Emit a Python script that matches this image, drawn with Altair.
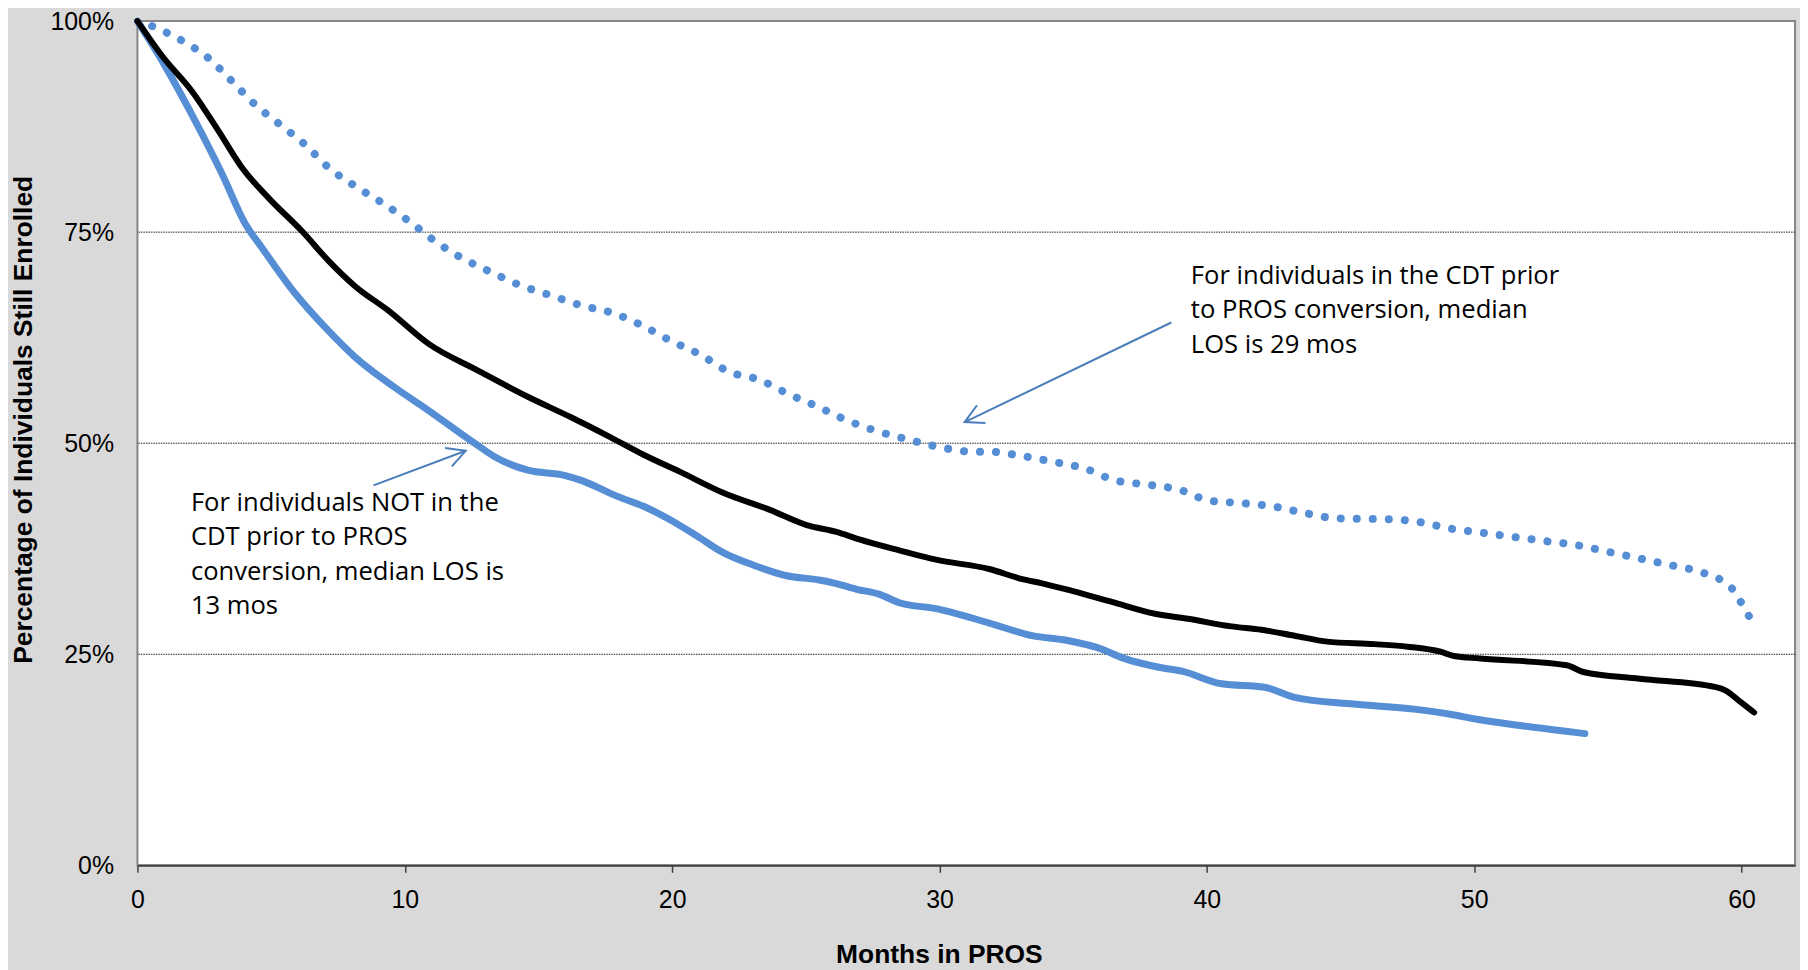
import altair as alt
import pandas as pd

# ---- series values ----
blue_months = [0, 0.94, 2.19, 3.18, 4.05, 4.67, 5.91, 7.15, 8.14, 9.63, 10.88, 12.61, 13.36, 14.6,
               15.97, 16.6, 17.95, 18.95, 19.94, 20.93, 21.93, 23.0, 24.28, 25.5, 26.1, 26.9, 27.76,
               28.5, 29.87, 31.86, 33.47, 34.83, 36.08, 36.82, 38.31, 39.06, 40.55, 42.16, 43.28,
               45.5, 47.75, 49.1, 50.1, 51.84, 54.14]
blue_pct = [100, 95.2, 88.0, 81.8, 75.9, 73.1, 67.7, 63.3, 60.2, 56.6, 53.9, 50.0, 48.4, 46.8,
            46.2, 45.6, 43.7, 42.5, 40.9, 39.0, 37.0, 35.6, 34.3, 33.8, 33.4, 32.7, 32.1,
            31.1, 30.4, 28.7, 27.2, 26.6, 25.6, 24.6, 23.4, 23.0, 21.5, 21.1, 19.9,
            19.1, 18.5, 17.9, 17.3, 16.5, 15.6]

black_months = [0, 0.94, 2.06, 3.05, 3.92, 4.92, 6.16, 7.15, 8.14, 9.39, 10.88, 12.74, 14.6, 16.2,
                17.7, 18.95, 20.3, 21.93, 23.66, 25.03, 26.15, 27.0, 28.63, 29.87, 31.86, 33.1,
                33.84, 34.96, 36.45, 38.06, 39.3, 40.92, 42.04, 43.28, 44.5, 46.26, 47.5, 48.74,
                49.24, 50.23, 53.46, 54.08, 56.19, 59.04, 59.41, 59.9, 60.47]
black_pct = [100, 95.8, 91.6, 86.9, 82.6, 79.0, 75.1, 71.6, 68.6, 65.7, 61.8, 58.6, 55.5, 53.1,
             50.7, 48.6, 46.6, 44.1, 42.1, 40.3, 39.5, 38.6, 37.2, 36.2, 35.1, 33.9,
             33.4, 32.5, 31.2, 29.8, 29.2, 28.3, 27.9, 27.2, 26.5, 26.2, 25.9, 25.3,
             24.8, 24.5, 23.7, 22.9, 22.1, 21.1, 20.7, 19.5, 18.1]

dot_months = [0.55, 1.66, 2.66, 3.53, 4.37, 5.31, 6.26, 7.13, 8.12, 9.14, 10.16, 11.1, 12.1, 13.2,
              14.33, 15.47, 16.62, 17.8, 18.9, 19.97, 21.05, 22.1, 23.27, 24.37, 25.46, 26.55,
              27.7, 28.88, 30.06, 31.24, 31.86, 33.06, 34.25, 35.44, 36.57, 37.77, 38.96, 40.1,
              41.29, 42.5, 43.7, 44.86, 46.68, 47.88, 49.08, 50.28, 51.48, 52.67, 53.88, 55.07,
              56.25, 57.43, 58.61, 59.64, 59.97, 60.28]
dot_pct = [99.4, 97.7, 95.6, 92.9, 90.2, 87.8, 85.4, 82.7, 80.5, 78.5, 76.3, 74.0, 72.0, 70.3,
           68.7, 67.5, 66.3, 65.4, 63.9, 62.1, 60.5, 58.5, 57.5, 55.8, 54.3, 52.7,
           51.4, 50.4, 49.5, 49.0, 49.0, 48.5, 47.8, 47.0, 45.6, 45.1, 44.5, 43.2,
           42.9, 42.5, 41.7, 41.1, 41.0, 40.7, 39.9, 39.4, 38.9, 38.4, 37.9, 37.1,
           36.3, 35.5, 34.6, 32.8, 31.2, 29.5]

x_ticks = [0, 10, 20, 30, 40, 50, 60]
y_ticks = [0, 25, 50, 75, 100]
grid_pct = [25, 50, 75]

note_x = [39.4, 2.0]
note_y = [68.87, 41.98]
note_text = [
    "For individuals in the CDT prior\nto PROS conversion, median\nLOS is 29 mos",
    "For individuals NOT in the\nCDT prior to PROS\nconversion, median LOS is\n13 mos",
]

arrow_x = [38.67, 8.83]
arrow_y = [64.3, 45.0]
arrow_x2 = [30.94, 12.28]
arrow_y2 = [52.5, 49.1]
arrow_angle = [154.3, 339.7]

# ---- tables ----
blue_df = pd.DataFrame({"m": blue_months, "p": blue_pct})
black_df = pd.DataFrame({"m": black_months, "p": black_pct})
dot_df = pd.DataFrame({"m": dot_months, "p": dot_pct})
grid_df = pd.DataFrame({"p": grid_pct})
note_df = pd.DataFrame({"m": note_x, "p": note_y, "t": note_text})
arrow_df = pd.DataFrame({"m": arrow_x, "p": arrow_y, "m2": arrow_x2, "p2": arrow_y2, "a": arrow_angle})
head_df = pd.DataFrame({"m": arrow_x2, "p": arrow_y2, "a": arrow_angle})

BLUE = "#558ed5"
ARROW = "#4a7ebb"

xscale = alt.Scale(domain=[0, 62], nice=False, zero=False)
yscale = alt.Scale(domain=[0, 100], nice=False)

xaxis = alt.Axis(
    values=x_ticks, grid=False, title="Months in PROS",
    labelFont="Liberation Sans", labelFontSize=25, labelColor="black",
    labelPadding=15, tickSize=7, tickColor="#404040", tickWidth=1.5,
    domainColor="#404040", domainWidth=2,
    titleFont="Liberation Sans", titleFontSize=26.5, titleFontWeight="bold", titleColor="black",
    titleX=805, titleY=98, titleAlign="center", titleBaseline="alphabetic",
    labelFlush=False, labelOverlap=False,
)
yaxis = alt.Axis(
    values=y_ticks, grid=False, title="Percentage of Individuals Still Enrolled",
    labelExpr="datum.value + '%'",
    labelFont="Liberation Sans", labelFontSize=25, labelColor="black",
    labelPadding=24, ticks=False, tickSize=0, domain=False,
    titleFont="Liberation Sans", titleFontSize=26.5, titleFontWeight="bold", titleColor="black",
    titleX=-106, titleY=400, titleAngle=270, titleAlign="center", titleBaseline="alphabetic",
    labelFlush=False, labelOverlap=False,
)


def X(f):
    return alt.X(f, type="quantitative", scale=xscale, axis=xaxis)


def Y(f):
    return alt.Y(f, type="quantitative", scale=yscale, axis=yaxis)


grid = alt.Chart(grid_df).mark_rule(color="#202020", strokeWidth=1, strokeDash=[1.5, 1]).encode(
    y=Y("p")
)

blue = alt.Chart(blue_df).mark_line(color=BLUE, strokeWidth=7, interpolate="monotone",
                                    strokeCap="round", strokeJoin="round").encode(x=X("m"), y=Y("p"))

dots = alt.Chart(dot_df).mark_line(color=BLUE, strokeWidth=8, strokeDash=[0.1, 16],
                                   strokeCap="round", interpolate="monotone").encode(x=X("m"), y=Y("p"))

black = alt.Chart(black_df).mark_line(color="black", strokeWidth=6, interpolate="monotone",
                                      strokeCap="round", strokeJoin="round").encode(x=X("m"), y=Y("p"))

arrows = alt.Chart(arrow_df).mark_rule(color=ARROW, strokeWidth=2).encode(
    x=X("m"), y=Y("p"), x2="m2:Q", y2="p2:Q"
)

heads = alt.Chart(head_df).mark_point(
    shape="M -0.883 -0.469 L 0 0 L -0.883 0.469", filled=False, color=ARROW,
    strokeWidth=2, size=1764, opacity=1,
).encode(x=X("m"), y=Y("p"), angle=alt.Angle("a:Q", scale=None))

notes = alt.Chart(note_df).mark_text(
    align="left", baseline="alphabetic", font="Open Sans", fontSize=25.7,
    lineHeight=34.5, lineBreak="\n", color="black",
).encode(x=X("m"), y=Y("p"), text="t:N")

chart = alt.layer(grid, blue, dots, black, arrows, heads, notes).properties(
    width=1665, height=848,
    padding={"left": 130, "top": 11, "right": 5, "bottom": 103},
    autosize=alt.AutoSizeParams(type="none"),
    background="#d9d9d9",
).configure_view(fill="white", stroke="#868686", strokeWidth=2)

chart.save("out.html", embed_options={"renderer": "svg", "actions": False})
